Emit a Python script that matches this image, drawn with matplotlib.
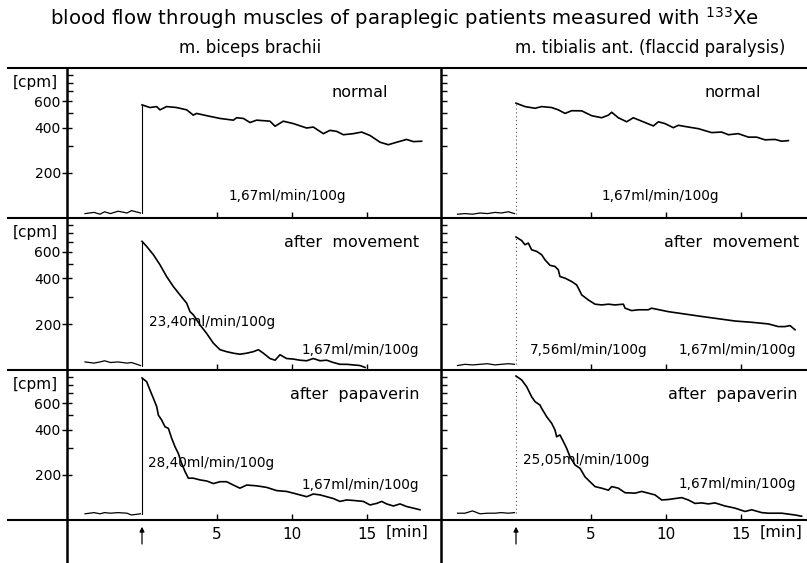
import matplotlib.pyplot as plt
from matplotlib.lines import Line2D

W, H = 807, 563

# time [min] relative to injection, counts [cpm]
base_t_left = [-3.8, -3.2, -2.8, -2.5, -2.1, -1.6, -1.0, -0.7, -0.1]
base_t_right = [-3.9, -3.4, -2.9, -2.4, -1.9, -1.4, -1.0, -0.5, -0.1]

# m. biceps brachii, normal
bic_norm_base = [107, 109, 106, 110, 107, 111, 108, 112, 108]
bic_norm_t = [0, 0.53, 0.98, 1.2, 1.64, 2.31, 2.98, 3.42, 3.64, 4.31, 5.2, 6.09, 6.31, 6.76, 7.2,
              7.64, 8.53, 8.87, 9.42, 10.09, 10.98, 11.42, 12.09, 12.53, 12.98, 13.42, 14.09,
              14.64, 15.2, 15.87, 16.42, 16.98, 17.64, 18.09, 18.64]
bic_norm_v = [568, 545, 553, 526, 553, 545, 526, 485, 498, 481, 461, 449, 466, 461, 433,
              449, 442, 409, 442, 426, 398, 404, 365, 384, 378, 359, 365,
              374, 355, 320, 308, 320, 334, 323, 325]

# m. tibialis ant., normal
tib_norm_base = [106, 107, 106, 108, 107, 109, 108, 110, 107]
tib_norm_t = [0, 0.6, 1.27, 1.71, 2.38, 2.82, 3.27, 3.71, 4.38, 5.04, 5.71, 6.16, 6.38, 6.82,
              7.38, 7.82, 8.38, 9.16, 9.49, 9.93, 10.49, 10.82, 11.49, 12.16, 13.04, 13.71,
              14.16, 14.82, 15.49, 16.04, 16.6, 17.27, 17.71, 18.16]
tib_norm_v = [583, 553, 539, 553, 545, 526, 498, 519, 518, 481, 466, 485, 507, 466,
              438, 466, 442, 411, 438, 426, 400, 415, 404, 394, 371, 374,
              359, 365, 346, 346, 332, 334, 325, 328]

# m. biceps brachii, after movement
bic_mov_base = [113, 111, 113, 115, 112, 113, 111, 112, 107]
bic_mov_t = [0, 0.31, 0.76, 0.98, 1.2, 1.64, 2.09, 2.53, 2.98, 3.2, 3.42, 3.87, 4.31, 4.76,
             5.2, 5.64, 6.09, 6.53, 6.98, 7.42, 7.76, 8.09, 8.53, 8.87, 9.2, 9.64, 10.09,
             10.53, 10.98, 11.42, 11.87, 12.31, 12.76, 13.2, 13.64, 14.09, 14.53, 14.87]
bic_mov_v = [702, 650, 573, 531, 492, 412, 354, 312, 275, 242, 231, 198, 174, 150,
             136, 132, 129, 127, 129, 132, 136, 129, 119, 116, 126, 119, 118,
             116, 115, 119, 115, 116, 112, 109, 109, 108, 107, 104]

# m. tibialis ant., after movement
tib_mov_base = [107, 109, 108, 109, 110, 108, 109, 110, 109]
tib_mov_t = [0, 0.38, 0.6, 0.82, 1.04, 1.38, 1.71, 1.93, 2.27, 2.6, 2.82, 2.93, 3.27, 3.71,
             4.04, 4.16, 4.38, 4.82, 5.27, 5.71, 6.16, 6.6, 7.16, 7.27, 7.71, 8.16, 8.82,
             9.04, 10.16, 12.38, 14.6, 15.71, 16.82, 17.49, 17.93, 18.27, 18.6]
tib_mov_v = [750, 710, 667, 684, 618, 603, 573, 531, 488, 480, 456, 412, 402, 382,
             363, 345, 312, 289, 271, 268, 271, 268, 271, 255, 246, 249, 249,
             255, 242, 225, 210, 206, 201, 193, 193, 196, 184]

# m. biceps brachii, after papaverin
bic_pap_base = [110, 112, 110, 112, 111, 112, 111, 108, 110]
bic_pap_t = [0, 0.31, 0.53, 0.76, 0.98, 1.09, 1.31, 1.53, 1.76, 1.98, 2.2, 2.42, 2.64, 2.87,
             3.09, 3.42, 3.87, 4.31, 4.76, 5.2, 5.64, 6.09, 6.53, 6.98, 7.64, 8.31, 8.98,
             9.64, 10.09, 10.53, 10.98, 11.42, 11.87, 12.31, 12.76, 13.2, 13.64, 14.09,
             14.76, 15.2, 15.64, 15.98, 16.31, 16.76, 17.2, 17.64, 18.09, 18.53]
bic_pap_v = [885, 836, 736, 647, 570, 501, 464, 419, 408, 350, 308, 278, 239, 210,
             190, 190, 185, 182, 175, 180, 180, 171, 163, 171, 169, 165, 157,
             155, 151, 147, 143, 149, 147, 143, 139, 133, 136, 135,
             133, 126, 129, 133, 128, 124, 128, 123, 120, 117]

# m. tibialis ant., after papaverin
tib_pap_base = [111, 111, 115, 110, 111, 111, 112, 111, 112]
tib_pap_t = [0, 0.38, 0.71, 1.04, 1.27, 1.6, 1.71, 2.04, 2.38, 2.6, 2.71, 2.93, 3.16, 3.38,
             3.6, 3.93, 4.27, 4.6, 4.93, 5.27, 5.71, 6.16, 6.38, 6.82, 7.27, 7.93, 8.38,
             8.82, 9.27, 9.71, 10.16, 10.6, 11.04, 11.49, 11.93, 12.38, 12.82, 13.27,
             13.93, 14.6, 15.27, 15.71, 16.38, 16.82, 17.71, 18.6, 19.04]
tib_pap_v = [912, 858, 774, 664, 615, 584, 555, 489, 441, 398, 359, 369, 333, 300,
             264, 233, 221, 194, 180, 167, 163, 158, 167, 163, 152, 151, 155,
             151, 147, 136, 137, 139, 141, 136, 129, 130, 128, 130,
             124, 120, 114, 117, 112, 111, 111, 108, 106]

states = ["normal", "after  movement", "after  papaverin"]
flow_labels = [
    # (left panel labels, right panel labels): (text, t, cpm, ha)
    ([("1,67ml/min/100g", 9.7, 140, "center")],
     [("1,67ml/min/100g", 9.6, 140, "center")]),
    ([("23,40ml/min/100g", 0.5, 206, "left"), ("1,67ml/min/100g", 18.5, 136, "right")],
     [("7,56ml/min/100g", 0.9, 136, "left"), ("1,67ml/min/100g", 18.7, 136, "right")]),
    ([("28,40ml/min/100g", 0.4, 240, "left"), ("1,67ml/min/100g", 18.5, 171, "right")],
     [("25,05ml/min/100g", 0.5, 251, "left"), ("1,67ml/min/100g", 18.7, 174, "right")]),
]
yticks = [200, 400, 600]
yminor = [300, 500, 700, 800, 900]
xticks = [5, 10, 15]

panels = [
    [(bic_norm_base, bic_norm_t, bic_norm_v), (tib_norm_base, tib_norm_t, tib_norm_v)],
    [(bic_mov_base, bic_mov_t, bic_mov_v), (tib_mov_base, tib_mov_t, tib_mov_v)],
    [(bic_pap_base, bic_pap_t, bic_pap_v), (tib_pap_base, tib_pap_t, tib_pap_v)],
]

plt.rcParams['font.family'] = 'DejaVu Sans'
fig = plt.figure(figsize=(W / 100, H / 100), dpi=100)

col_x = [(67, 441), (441, 807)]
col_xlim = [(-5, (441 - 142) / 15), (-5, (807 - 516) / 15)]
row_y = [(68, 218), (218, 370), (370, 520)]
state_pos = [(16.4, 16.3), (18.5, 18.9), (18.5, 18.75)]

for r in range(3):
    for c in range(2):
        x0, x1 = col_x[c]
        y0, y1 = row_y[r]
        ax = fig.add_axes([x0 / W, 1 - y1 / H, (x1 - x0) / W, (y1 - y0) / H])
        ax.set_yscale('log')
        ax.set_ylim(100, 1000)
        ax.set_xlim(*col_xlim[c])
        for s in ax.spines.values():
            s.set_visible(False)
        ax.patch.set_alpha(0)

        base_v, t, v = panels[r][c]
        bt = base_t_left if c == 0 else base_t_right
        ax.plot(bt, base_v, color='k', lw=0.9)
        if c == 0:
            ax.plot([0, 0], [base_v[-1], v[0]], color='k', lw=0.8)
        else:
            ax.plot([0, 0], [base_v[-1], v[0]], color='#333333', lw=0.7, ls=(0, (1, 3)))
        ax.plot(t, v, color='k', lw=1.2)

        ax.set_yticks(yticks)
        ax.set_yticks(yminor, minor=True)
        ax.yaxis.set_minor_formatter(plt.NullFormatter())
        if c == 0:
            ax.set_yticklabels([str(y) for y in yticks])
            ax.tick_params(axis='y', which='major', direction='inout', length=7,
                           width=1, labelsize=10, pad=1)
            ax.text(-5.6, 800, "[cpm]", ha='right', va='center', fontsize=11,
                    clip_on=False)
        else:
            ax.set_yticklabels([])
            ax.tick_params(axis='y', which='major', direction='in', length=4, width=1)
        ax.tick_params(axis='y', which='minor', direction='in', length=4, width=1)

        ax.set_xticks(xticks)
        ax.tick_params(axis='x', direction='in', length=4, width=1, labelsize=11, pad=5)
        if r < 2:
            ax.set_xticklabels([])
        else:
            ax.text(17.7, -0.085, "[min]", transform=ax.get_xaxis_transform(),
                    ha='center', va='center', fontsize=11.5)
            ax.annotate('', xy=(0, -0.045), xytext=(0, -0.16),
                        xycoords=('data', 'axes fraction'),
                        arrowprops=dict(arrowstyle='-|>', color='k', lw=0.9,
                                        mutation_scale=7, shrinkA=0, shrinkB=0),
                        annotation_clip=False)

        ax.text(state_pos[r][c], 690, states[r], ha='right', va='center', fontsize=11.5)
        for txt, tx, ty, ha in flow_labels[r][c]:
            ax.text(tx, ty, txt, ha=ha, va='center', fontsize=9.8)

# frame lines across the whole figure
for y in [68, 218, 370, 520]:
    fig.add_artist(Line2D([8 / W, 807 / W], [1 - y / H, 1 - y / H], color='k', lw=1.5))
for x in [67, 441]:
    fig.add_artist(Line2D([x / W, x / W], [1 - 68 / H, 0], color='k', lw=1.8))

fig.text(405 / W, 1 - 18 / H,
         r"blood flow through muscles of paraplegic patients measured with $^{133}$Xe",
         ha='center', va='center', fontsize=14.2)
fig.text(250 / W, 1 - 48 / H, "m. biceps brachii", ha='center', va='center', fontsize=12)
fig.text(650 / W, 1 - 48 / H, "m. tibialis ant. (flaccid paralysis)", ha='center',
         va='center', fontsize=12)

fig.savefig("out.png", dpi=100)
